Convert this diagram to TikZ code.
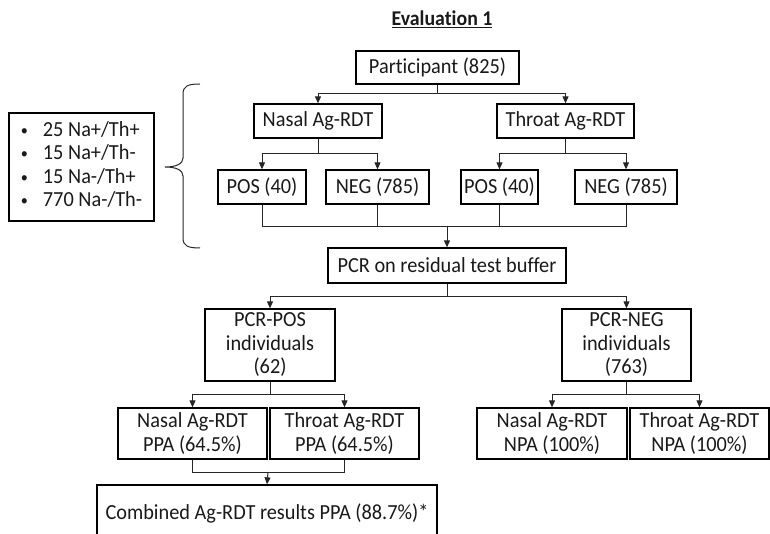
\documentclass[tikz,border=0pt]{standalone}
\usepackage{fontspec}
\setmainfont[Ligatures=NoCommon,FakeStretch=0.945]{Carlito}
\usetikzlibrary{arrows.meta}
\newcommand{\smallbul}{\raisebox{1pt}{\fontsize{15}{15}\selectfont\textbullet}}
\begin{document}
\begin{tikzpicture}[x=1pt,y=-1pt,
  box/.style={draw=black,line width=1.3pt,rectangle,inner sep=0pt,align=center,
    font=\fontsize{21.5}{23.5}\selectfont,text=black!90},
  con/.style={draw=black!85,line width=1pt},
  arr/.style={con,-{Triangle[length=7pt,width=6pt]}}]
\useasboundingbox (0,0) rectangle (770,534);
\begin{scope}
\clip (0,0) rectangle (770,534);
% title
\node[font=\fontsize{21}{23.5}\selectfont\bfseries,text=black!90] (title) at (442,19) {\underline{Evaluation 1}};
% top part
\node[box,minimum width=163pt,minimum height=33pt] (part) at (437.5,67.5) {Participant (825)};
\node[box,minimum width=128pt,minimum height=34pt] (nasal) at (318,121) {Nasal Ag-RDT};
\node[box,minimum width=137pt,minimum height=34pt] (throat) at (565.5,121) {Throat Ag-RDT};
\node[box,minimum width=88pt,minimum height=34pt] (pos1) at (262,187) {POS (40)};
\node[box,minimum width=103pt,minimum height=34pt] (neg1) at (377.5,187) {NEG (785)};
\node[box,minimum width=77pt,minimum height=34pt] (pos2) at (499.5,187) {POS (40)};
\node[box,minimum width=102pt,minimum height=34pt] (neg2) at (626,187) {NEG (785)};
\node[box,minimum width=238pt,minimum height=35pt] (pcr) at (447,265.5) {PCR on residual test buffer};
\node[box,minimum width=130pt,minimum height=72pt] (pcrpos) at (270,345) {PCR-POS\\individuals\\(62)};
\node[box,minimum width=129pt,minimum height=72pt] (pcrneg) at (626.5,345) {PCR-NEG\\individuals\\(763)};
\node[box,minimum width=149pt,minimum height=51pt] (nppa) at (192.5,433.5) {Nasal Ag-RDT\\PPA (64.5\%)};
\node[box,minimum width=149pt,minimum height=51pt] (tppa) at (344.5,433.5) {Throat Ag-RDT\\PPA (64.5\%)};
\node[box,minimum width=150pt,minimum height=51pt] (nnpa) at (552,433.5) {Nasal Ag-RDT\\NPA (100\%)};
\node[box,minimum width=139pt,minimum height=51pt] (tnpa) at (699.5,433.5) {Throat Ag-RDT\\NPA (100\%)};
\node[box,minimum width=340pt,minimum height=56pt] (comb) at (267,513) {Combined Ag-RDT results PPA (88.7\%)*};
% left box
\node[box,minimum width=145pt,minimum height=108pt,align=left] (left) at (81.5,167)
  {\begin{tabular}{@{}l@{\hspace{15pt}}l@{}}
   \smallbul & 25 Na+/Th+\\
   \smallbul & 15 Na+/Th-\\
   \smallbul & 15 Na-/Th+\\
   \smallbul & 770 Na-/Th-
   \end{tabular}};
% brace
\draw[con] (200,84) .. controls (188,84) and (183,86) .. (183,94) -- (183,158)
  .. controls (183,164) and (176,167) .. (165,167)
  .. controls (176,167) and (183,170) .. (183,176) -- (183,238)
  .. controls (183,246) and (188,248) .. (200,248);
% connectors
\coordinate (b1) at (437.5,94);
\draw[con] (part.south) -- (b1);
\draw[arr] (b1) -| (nasal.north);
\draw[arr] (b1) -| (throat.north);
\coordinate (b2) at (318,154);
\draw[con] (nasal.south) -- (b2);
\draw[arr] (b2) -| (pos1.north);
\draw[arr] (b2) -| (neg1.north);
\coordinate (b3) at (565.5,154);
\draw[con] (throat.south) -- (b3);
\draw[arr] (b3) -| (pos2.north);
\draw[arr] (b3) -| (neg2.north);
\coordinate (j1) at (447,227);
\draw[con] (pos1.south) |- (j1);
\draw[con] (neg2.south) |- (j1);
\draw[con] (neg1.south) -- (neg1.south |- j1);
\draw[con] (pos2.south) -- (pos2.south |- j1);
\draw[arr] (j1) -- (pcr.north);
\coordinate (b4) at (447,296);
\draw[con] (pcr.south) -- (b4);
\draw[arr] (b4) -| (pcrpos.north);
\draw[arr] (b4) -| (pcrneg.north);
\coordinate (b5) at (270,394);
\draw[con] (pcrpos.south) -- (b5);
\draw[arr] (b5) -| (nppa.north);
\draw[arr] (b5) -| (tppa.north);
\coordinate (b6) at (626.5,394);
\draw[con] (pcrneg.south) -- (b6);
\draw[arr] (b6) -| (nnpa.north);
\draw[arr] (b6) -| (tnpa.north);
\coordinate (j2) at (268,472);
\draw[con] (nppa.south) |- (j2);
\draw[con] (tppa.south) |- (j2);
\draw[arr] (j2) -- (comb.north);
\end{scope}
\end{tikzpicture}
\end{document}
